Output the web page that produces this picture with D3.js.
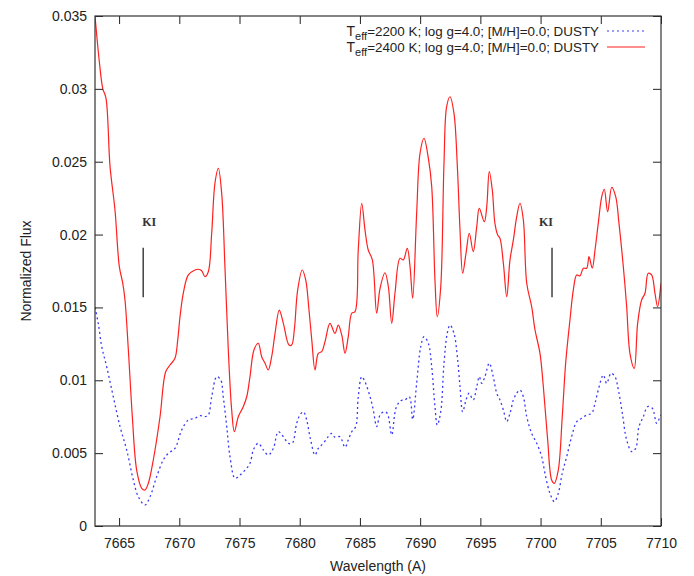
<!DOCTYPE html>
<html>
<head>
<meta charset="utf-8">
<script src="https://cdn.jsdelivr.net/npm/d3@7"></script>
<style>
  body { margin: 0; background: #fff; }
  text { font-family: "Liberation Sans", Arial, sans-serif; }
</style>
</head>
<body>
<script>
var svgWidth = 694;
var svgHeight = 576;
var margin = {top: 16, right: 33, bottom: 50, left: 95};

// wavelength grid (A) and normalized flux
var wave2400 = [7663.00, 7663.36, 7663.64, 7663.91, 7664.25, 7664.66, 7665.02, 7665.30, 7665.49, 7665.77,
  7666.10, 7666.46, 7666.88, 7667.15, 7667.43, 7667.84, 7668.40, 7668.87, 7669.23, 7669.64,
  7669.87, 7670.06, 7670.33, 7670.75, 7671.30, 7671.58, 7671.86, 7672.13, 7672.41, 7672.69,
  7672.96, 7673.24, 7673.52, 7673.79, 7674.07, 7674.35, 7674.57, 7674.90, 7675.31, 7675.60,
  7675.87, 7676.20, 7676.56, 7676.84, 7677.12, 7677.39, 7677.67, 7677.95, 7678.30, 7678.64,
  7679.11, 7679.33, 7679.55, 7679.83, 7680.21, 7680.50, 7680.77, 7681.00, 7681.27, 7681.54,
  7681.82, 7682.10, 7682.51, 7682.93, 7683.20, 7683.49, 7683.76, 7684.03, 7684.32, 7684.59,
  7684.86, 7685.15, 7685.42, 7685.69, 7686.03, 7686.39, 7686.67, 7687.08, 7687.36, 7687.64,
  7687.91, 7688.33, 7688.60, 7688.93, 7689.16, 7689.38, 7689.71, 7689.99, 7690.32, 7690.68,
  7690.96, 7691.23, 7691.42, 7691.71, 7691.98, 7692.20, 7692.48, 7692.81, 7693.09, 7693.31,
  7693.53, 7693.81, 7694.08, 7694.41, 7694.70, 7694.91, 7695.33, 7695.53, 7695.74, 7695.99,
  7696.21, 7696.44, 7696.63, 7696.91, 7697.19, 7697.46, 7697.74, 7698.02, 7698.29, 7698.57,
  7698.85, 7699.26, 7699.54, 7699.95, 7700.23, 7700.59, 7700.92, 7701.14, 7701.47, 7701.80,
  7702.09, 7702.44, 7702.72, 7703.00, 7703.27, 7703.55, 7703.83, 7704.02, 7704.29, 7704.52,
  7704.79, 7705.08, 7705.29, 7705.57, 7705.91, 7706.24, 7706.51, 7706.87, 7707.15, 7707.42,
  7707.78, 7708.06, 7708.39, 7708.67, 7708.94, 7709.22, 7709.50, 7709.72, 7710.00];
var flux2400 = [0.03500, 0.03186, 0.03004, 0.02937, 0.02466, 0.02169, 0.01780, 0.01668, 0.01551, 0.01208,
  0.00750, 0.00384, 0.00259, 0.00247, 0.00293, 0.00453, 0.00750, 0.01059, 0.01105, 0.01151,
  0.01277, 0.01436, 0.01597, 0.01723, 0.01757, 0.01762, 0.01752, 0.01711, 0.01745, 0.02009,
  0.02352, 0.02455, 0.02283, 0.01780, 0.01208, 0.00796, 0.00647, 0.00750, 0.00819, 0.00887,
  0.01025, 0.01208, 0.01254, 0.01162, 0.01117, 0.01071, 0.01162, 0.01322, 0.01482, 0.01391,
  0.01242, 0.01242, 0.01345, 0.01620, 0.01757, 0.01688, 0.01482, 0.01277, 0.01071, 0.01185,
  0.01196, 0.01265, 0.01391, 0.01322, 0.01379, 0.01311, 0.01185, 0.01299, 0.01460, 0.01471,
  0.01894, 0.02215, 0.02031, 0.01894, 0.01826, 0.01460, 0.01631, 0.01738, 0.01642, 0.01391,
  0.01597, 0.01837, 0.01826, 0.01906, 0.01780, 0.01563, 0.02146, 0.02558, 0.02661, 0.02524,
  0.02329, 0.01688, 0.01436, 0.01642, 0.02489, 0.02878, 0.02946, 0.02832, 0.02466, 0.02031,
  0.01734, 0.01872, 0.02009, 0.01883, 0.02054, 0.02180, 0.02088, 0.02191, 0.02432, 0.02306,
  0.02077, 0.01997, 0.01974, 0.01803, 0.01574, 0.01826, 0.01963, 0.02123, 0.02215, 0.02100,
  0.01666, 0.01505, 0.01345, 0.01185, 0.00956, 0.00590, 0.00316, 0.00293, 0.00384, 0.00750,
  0.01125, 0.01414, 0.01620, 0.01723, 0.01716, 0.01769, 0.01769, 0.01848, 0.01769, 0.01894,
  0.02077, 0.02260, 0.02311, 0.02157, 0.02324, 0.02260, 0.02077, 0.01780, 0.01505, 0.01185,
  0.01082, 0.01391, 0.01551, 0.01597, 0.01734, 0.01723, 0.01597, 0.01505, 0.01666];

var wave2200 = [7663.00, 7663.27, 7663.56, 7663.97, 7664.52, 7665.08, 7665.63, 7666.18, 7666.60, 7667.15,
  7667.57, 7668.12, 7668.67, 7669.09, 7669.64, 7670.20, 7670.75, 7671.30, 7671.72, 7672.13,
  7672.41, 7672.69, 7673.11, 7673.44, 7673.65, 7673.94, 7674.21, 7674.63, 7675.04, 7675.46,
  7675.87, 7676.15, 7676.56, 7676.98, 7677.39, 7677.81, 7678.22, 7678.64, 7679.05, 7679.38,
  7679.75, 7680.02, 7680.30, 7680.58, 7680.85, 7681.27, 7681.54, 7681.96, 7682.37, 7682.66,
  7682.93, 7683.34, 7683.76, 7684.03, 7684.32, 7684.65, 7684.86, 7685.15, 7685.42, 7685.84,
  7686.11, 7686.39, 7686.67, 7687.00, 7687.27, 7687.64, 7687.99, 7688.38, 7688.74, 7689.10,
  7689.38, 7689.71, 7690.05, 7690.32, 7690.68, 7690.96, 7691.23, 7691.42, 7691.71, 7691.98,
  7692.25, 7692.48, 7692.81, 7693.09, 7693.31, 7693.53, 7693.81, 7694.06, 7694.41, 7694.70,
  7694.91, 7695.11, 7695.38, 7695.74, 7696.07, 7696.36, 7696.63, 7696.91, 7697.19, 7697.46,
  7697.74, 7698.02, 7698.29, 7698.57, 7698.85, 7699.26, 7699.68, 7700.09, 7700.42, 7700.78,
  7701.14, 7701.47, 7701.80, 7702.17, 7702.58, 7703.00, 7703.41, 7703.83, 7704.24, 7704.52,
  7704.79, 7705.21, 7705.49, 7705.85, 7706.18, 7706.46, 7706.79, 7707.15, 7707.57, 7707.90,
  7708.17, 7708.53, 7708.89, 7709.28, 7709.64, 7709.92, 7710.00];
var flux2200 = [0.01500, 0.01391, 0.01231, 0.01093, 0.00887, 0.00682, 0.00522, 0.00316, 0.00201, 0.00144,
  0.00201, 0.00338, 0.00453, 0.00499, 0.00533, 0.00659, 0.00727, 0.00739, 0.00757, 0.00750,
  0.00762, 0.00887, 0.01025, 0.01002, 0.00887, 0.00682, 0.00476, 0.00327, 0.00350, 0.00384,
  0.00430, 0.00522, 0.00568, 0.00522, 0.00487, 0.00533, 0.00647, 0.00613, 0.00568, 0.00568,
  0.00705, 0.00762, 0.00784, 0.00727, 0.00613, 0.00487, 0.00533, 0.00568, 0.00613, 0.00636,
  0.00609, 0.00613, 0.00540, 0.00590, 0.00647, 0.00682, 0.00887, 0.01025, 0.00990, 0.00887,
  0.00796, 0.00682, 0.00762, 0.00784, 0.00773, 0.00625, 0.00808, 0.00860, 0.00865, 0.00887,
  0.00732, 0.00979, 0.01231, 0.01299, 0.01254, 0.01093, 0.00819, 0.00693, 0.00784, 0.01117,
  0.01322, 0.01379, 0.01322, 0.01162, 0.00956, 0.00784, 0.00865, 0.00911, 0.00865, 0.00956,
  0.01025, 0.00979, 0.01025, 0.01117, 0.01025, 0.00911, 0.00865, 0.00796, 0.00716, 0.00773,
  0.00865, 0.00911, 0.00933, 0.00887, 0.00750, 0.00636, 0.00568, 0.00476, 0.00338, 0.00224,
  0.00167, 0.00224, 0.00362, 0.00476, 0.00613, 0.00716, 0.00739, 0.00762, 0.00773, 0.00842,
  0.00933, 0.01036, 0.00979, 0.01048, 0.01025, 0.00933, 0.00773, 0.00590, 0.00510, 0.00533,
  0.00682, 0.00750, 0.00819, 0.00808, 0.00705, 0.00750, 0.00762];

var xTicks = [7665, 7670, 7675, 7680, 7685, 7690, 7695, 7700, 7705, 7710];
var yTicks = [0, 0.005, 0.01, 0.015, 0.02, 0.025, 0.03, 0.035];
var legendLabels = ["=2200 K; log g=4.0; [M/H]=0.0; DUSTY", "=2400 K; log g=4.0; [M/H]=0.0; DUSTY"];
var kiWave = [7667.0, 7700.95];

var plotW = svgWidth - margin.left - margin.right;
var plotH = svgHeight - margin.top - margin.bottom;

var svg = d3.select("body")
    .append("svg")
    .attr("width", svgWidth)
    .attr("height", svgHeight);

var g = svg.append("g")
    .attr("transform", "translate(" + margin.left + "," + margin.top + ")");

var x = d3.scaleLinear().domain([7663, 7710]).range([0, plotW]);
var y = d3.scaleLinear().domain([0, 0.035]).range([plotH, 0]);

// clip so curves stay in the frame
g.append("clipPath").attr("id", "clip")
    .append("rect").attr("width", plotW).attr("height", plotH);

var line = d3.line()
    .x(function (d) { return x(d[0]); })
    .y(function (d) { return y(d[1]); })
    .curve(d3.curveCatmullRom.alpha(0.5));

var blue = d3.zip(wave2200, flux2200);
var red = d3.zip(wave2400, flux2400);

g.append("path")
    .datum(blue)
    .attr("clip-path", "url(#clip)")
    .attr("d", line)
    .attr("fill", "none")
    .attr("stroke", "#3a3af5")
    .attr("stroke-width", 1.3)
    .attr("stroke-dasharray", "2,3");

g.append("path")
    .datum(red)
    .attr("clip-path", "url(#clip)")
    .attr("d", line)
    .attr("fill", "none")
    .attr("stroke", "#ff2020")
    .attr("stroke-width", 1.2);

// axes, gnuplot style: ticks inside and mirrored
var fmtY = function (d) { return d === 0 ? "0" : String(+d.toFixed(3)); };
var axBottom = g.append("g").attr("transform", "translate(0," + plotH + ")")
    .call(d3.axisBottom(x).tickValues(xTicks).tickSizeInner(-8).tickSizeOuter(0).tickPadding(12).tickFormat(d3.format("d")));
var axLeft = g.append("g")
    .call(d3.axisLeft(y).tickValues(yTicks).tickSizeInner(-8).tickSizeOuter(0).tickPadding(8).tickFormat(fmtY));
var axTop = g.append("g")
    .call(d3.axisTop(x).tickValues(xTicks).tickSizeInner(-8).tickSizeOuter(0).tickFormat(""));
var axRight = g.append("g").attr("transform", "translate(" + plotW + ",0)")
    .call(d3.axisRight(y).tickValues(yTicks).tickSizeInner(-8).tickSizeOuter(0).tickFormat(""));

[axBottom, axLeft, axTop, axRight].forEach(function (a) {
    a.select(".domain").remove();
    a.selectAll("line").attr("stroke", "#222");
    a.selectAll("text").attr("font-size", "14px").attr("fill", "#222");
});

g.append("rect")
    .attr("width", plotW)
    .attr("height", plotH)
    .attr("fill", "none")
    .attr("stroke", "#333")
    .attr("stroke-width", 1.2);

// axis titles
svg.append("text")
    .attr("x", margin.left + plotW / 2)
    .attr("y", 571)
    .attr("text-anchor", "middle")
    .attr("font-size", "14px")
    .attr("fill", "#222")
    .text("Wavelength (A)");

svg.append("text")
    .attr("transform", "translate(31," + (margin.top + plotH / 2) + ") rotate(-90)")
    .attr("text-anchor", "middle")
    .attr("font-size", "14px")
    .attr("fill", "#222")
    .text("Normalized Flux");

// KI markers
kiWave.forEach(function (w, i) {
    g.append("line")
        .attr("x1", x(w)).attr("x2", x(w))
        .attr("y1", y(0.0191)).attr("y2", y(0.0157))
        .attr("stroke", "#111").attr("stroke-width", 1.2);
    g.append("text")
        .attr("x", i === 0 ? x(w) + 6 : x(w) - 6)
        .attr("y", y(0.0206))
        .attr("text-anchor", "middle")
        .style("font-family", "'Liberation Serif', 'Times New Roman', serif")
        .attr("font-weight", "bold")
        .attr("font-size", "12px")
        .attr("fill", "#333")
        .text("KI");
});

// legend
var legend = svg.append("g");
var rows = [
    {label: legendLabels[0], color: "#3a3af5", dash: "2,3", yy: 31},
    {label: legendLabels[1], color: "#ff2020", dash: null, yy: 47}
];
rows.forEach(function (r) {
    var t = legend.append("text")
        .attr("x", 599)
        .attr("y", r.yy + 5)
        .attr("text-anchor", "end")
        .attr("font-size", "13.4px")
        .attr("fill", "#222");
    t.append("tspan").attr("font-size", "14px").text("T");
    t.append("tspan").attr("font-size", "11px").attr("dy", 4).text("eff");
    t.append("tspan").attr("dy", -4).text(r.label);
    legend.append("line")
        .attr("x1", 607).attr("x2", 645)
        .attr("y1", r.yy).attr("y2", r.yy)
        .attr("stroke", r.color)
        .attr("stroke-width", 1.2)
        .attr("stroke-dasharray", r.dash);
});
</script>
</body>
</html>
